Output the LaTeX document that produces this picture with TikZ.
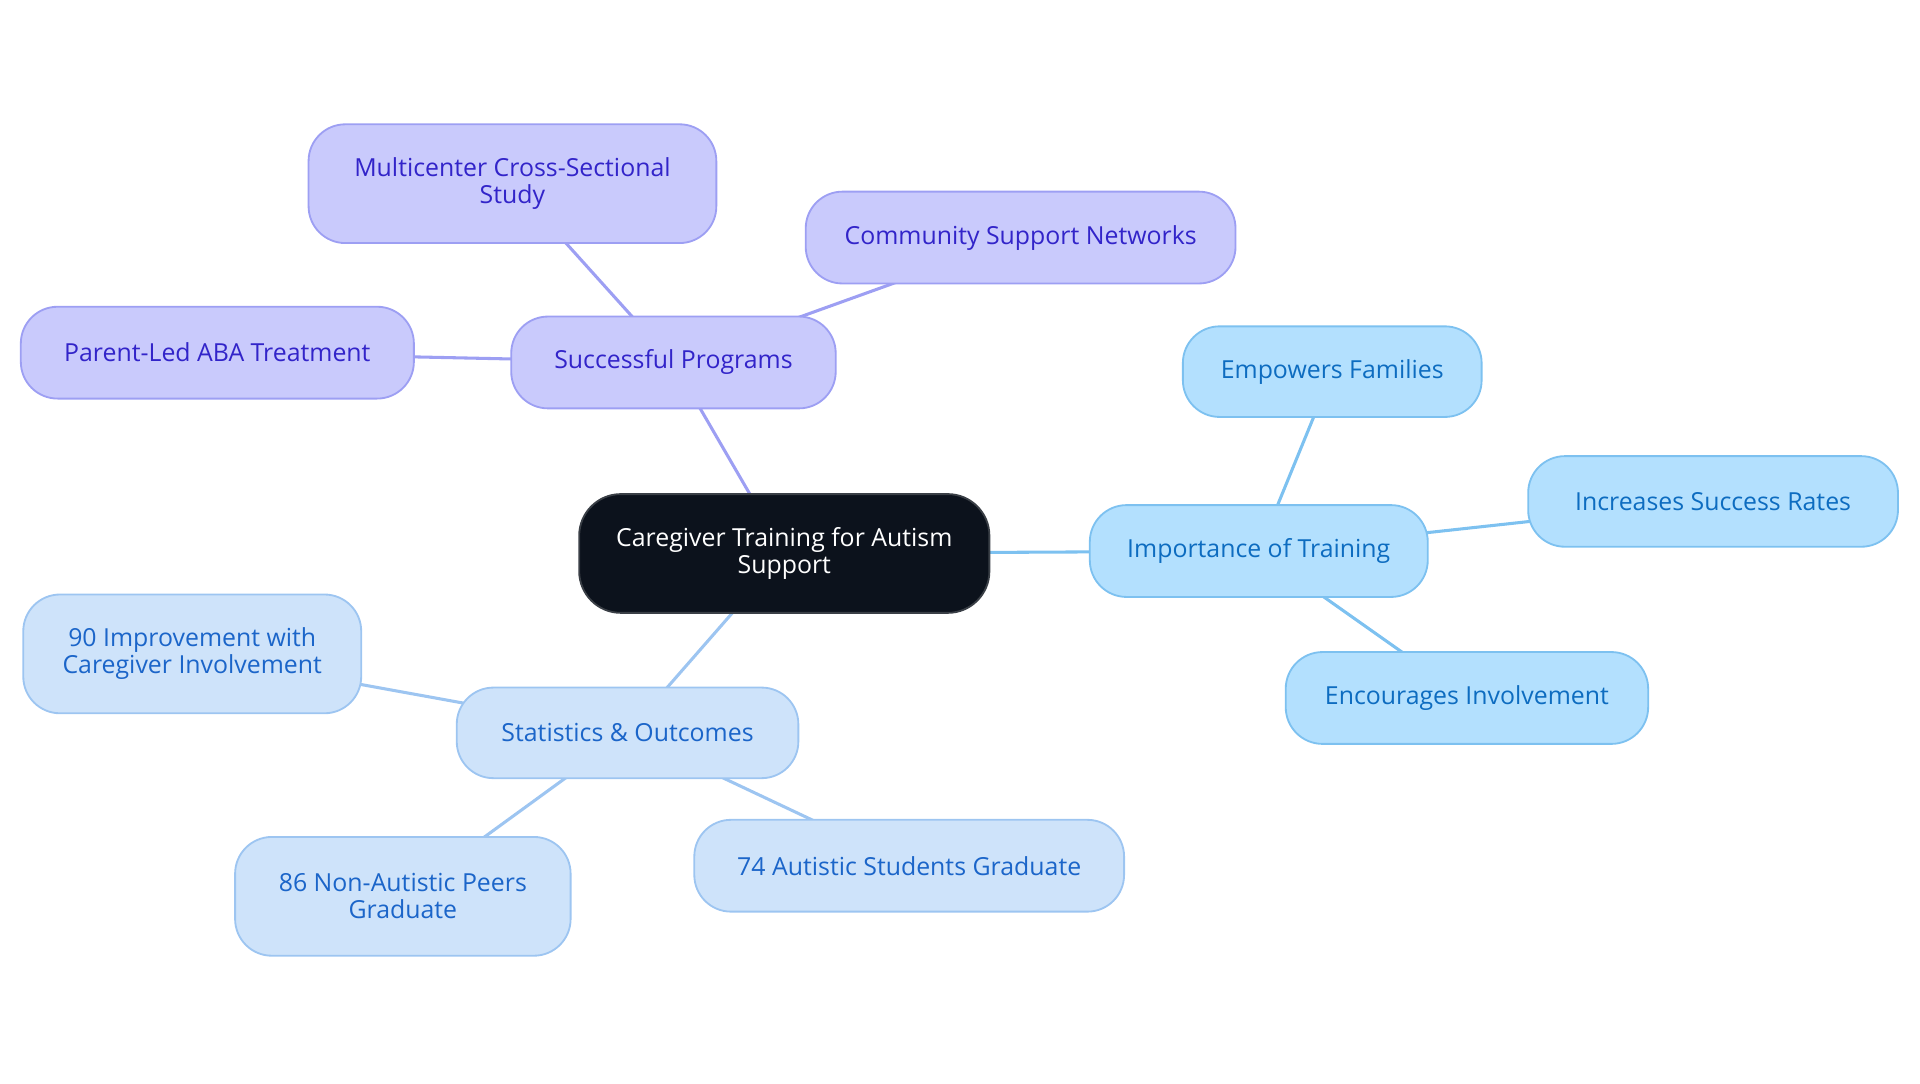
\documentclass[tikz,border=0pt]{standalone}
\usepackage{fontspec}
\setmainfont{Open Sans}
\usetikzlibrary{backgrounds}
\definecolor{darkfill}{HTML}{0C121C}
\definecolor{darkdraw}{HTML}{3A3F46}
\definecolor{spfill}{HTML}{C9CAFC}
\definecolor{spdraw}{HTML}{9D9FF3}
\definecolor{sptext}{HTML}{3224C9}
\definecolor{itfill}{HTML}{B3E0FE}
\definecolor{itdraw}{HTML}{7DC1F0}
\definecolor{ittext}{HTML}{0D6CC0}
\definecolor{sofill}{HTML}{CEE3FA}
\definecolor{sodraw}{HTML}{9DC5F1}
\definecolor{sotext}{HTML}{1B65C9}
\begin{document}
\begin{tikzpicture}[x=1pt,y=-1pt,
  box/.style={rounded corners=30pt, draw, line width=1.5pt, align=center, inner sep=0pt,
    font=\fontsize{20.3}{22}\selectfont},
  root/.style={box, fill=darkfill, draw=darkdraw, text=white, rounded corners=34pt},
  spbox/.style={box, fill=spfill, draw=spdraw, text=sptext},
  itbox/.style={box, fill=itfill, draw=itdraw, text=ittext},
  sobox/.style={box, fill=sofill, draw=sodraw, text=sotext},
  spline/.style={draw=spdraw, line width=2.5pt},
  itline/.style={draw=itdraw, line width=2.5pt},
  soline/.style={draw=sodraw, line width=2.5pt}]
\useasboundingbox (0,0) rectangle (1568,884.5);

\node[root, minimum width=335pt, minimum height=97pt] (c) at (640.5,452) {Caregiver Training for Autism\\Support};

\node[spbox, minimum width=265pt, minimum height=75pt] (sp) at (550,296) {Successful Programs};
\node[spbox, minimum width=333pt, minimum height=97pt] (mc) at (418.5,150) {Multicenter Cross-Sectional\\Study};
\node[spbox, minimum width=351pt, minimum height=75pt] (cs) at (833.5,194) {Community Support Networks};
\node[spbox, minimum width=321pt, minimum height=75pt] (pl) at (177.5,288) {Parent-Led ABA Treatment};

\node[itbox, minimum width=276pt, minimum height=75pt] (it) at (1028,450) {Importance of Training};
\node[itbox, minimum width=244pt, minimum height=74pt] (ef) at (1088,303.5) {Empowers Families};
\node[itbox, minimum width=302pt, minimum height=74pt] (is) at (1399,409.5) {Increases Success Rates};
\node[itbox, minimum width=296pt, minimum height=75pt] (ei) at (1198,570) {Encourages Involvement};

\node[sobox, minimum width=279pt, minimum height=74pt] (so) at (512.5,598.5) {Statistics \& Outcomes};
\node[sobox, minimum width=276pt, minimum height=97pt] (n90) at (157,534) {90 Improvement with\\Caregiver Involvement};
\node[sobox, minimum width=274pt, minimum height=97pt] (n86) at (329,732) {86 Non-Autistic Peers\\Graduate};
\node[sobox, minimum width=351pt, minimum height=75pt] (n74) at (742.5,707) {74 Autistic Students Graduate};

\begin{scope}[on background layer]
\draw[spline] (c.center) -- (sp.center);
\draw[spline] (sp.center) -- (mc.center);
\draw[spline] (sp.center) -- (cs.center);
\draw[spline] (sp.center) -- (pl.center);
\draw[itline] (c.center) -- (it.center);
\draw[itline] (it.center) -- (ef.center);
\draw[itline] (it.center) -- (is.center);
\draw[itline] (it.center) -- (ei.center);
\draw[soline] (c.center) -- (so.center);
\draw[soline] (so.center) -- (n90.center);
\draw[soline] (so.center) -- (n86.center);
\draw[soline] (so.center) -- (n74.center);
\end{scope}
\end{tikzpicture}
\end{document}
